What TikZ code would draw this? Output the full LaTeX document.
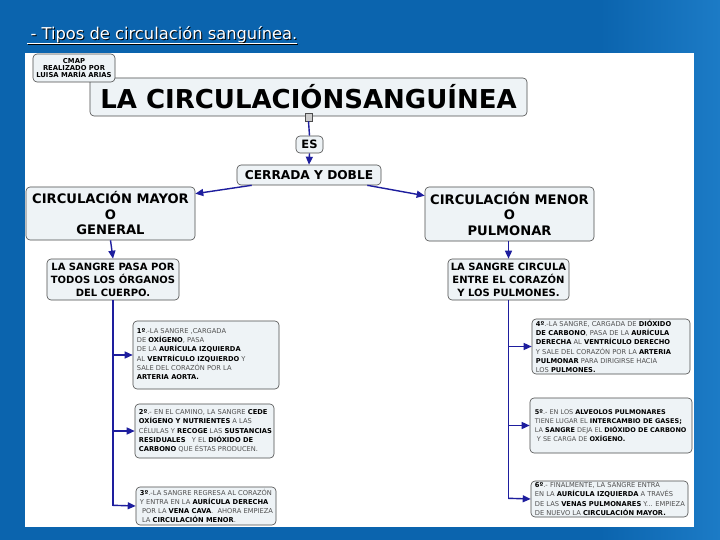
\documentclass[tikz,border=0pt]{standalone}
\usepackage{fontspec}
\setmainfont{DejaVu Sans}
\usetikzlibrary{arrows.meta,calc}
\definecolor{bgblue}{HTML}{0B64AE}
\definecolor{bgblue2}{HTML}{1C7BC6}
\definecolor{boxfill}{HTML}{EEF3F6}
\definecolor{conn}{HTML}{1E1E9E}
\definecolor{txtgray}{HTML}{505050}
\newcommand{\bb}[1]{{\color{black}\bfseries #1}}
\begin{document}
\begin{tikzpicture}[x=1pt,y=-1pt,
  box/.style={draw=black!70, line width=0.6pt, rounded corners=4pt, fill=boxfill,
              inner sep=0pt, align=center, font=\bfseries},
  sz/.style n args={2}{minimum width=#1, minimum height=#2},
  small/.style={box},
  smalltext/.style={anchor=west, inner sep=0pt, align=left, text=txtgray, font=\fontsize{6.7}{9.2}\selectfont},
  conline/.style={draw=conn, line width=1.4pt},
  arr/.style={conline, -{Triangle[length=8pt,width=7pt]}}
]
\useasboundingbox (0,0) rectangle (720,540);
% background
\fill[bgblue] (0,0) rectangle (720,540);
\shade[left color=bgblue, right color=bgblue2] (600,0) rectangle (720,540);
\fill[white] (25,53) rectangle (694,527);

% page heading
\node[anchor=base west, text=black, font=\fontsize{16.3}{18}\selectfont] (headsh) at (28,41) {- Tipos de circulación sanguínea.};
\draw[black, line width=1pt] (28,45) -- (298,45);
\node[anchor=base west, text=white, font=\fontsize{16.3}{18}\selectfont] (head) at (27,40) {- Tipos de circulación sanguínea.};
\draw[white, line width=1pt] (27,44) -- (297,44);

% main title
\node[box, sz={437pt}{38pt}, font=\bfseries\fontsize{26}{28}\selectfont] (title) at (308.5,97) {LA CIRCULACIÓNSANGUÍNEA};
\node[box, sz={82pt}{28pt}, font=\bfseries\fontsize{6.8}{7.2}\selectfont] (cmap) at (74,68) {CMAP\\REALIZADO POR\\LUISA MARÍA ARIAS};
\node[draw=black!70, fill=gray!40, line width=0.5pt, minimum width=7pt, minimum height=8pt, inner sep=0pt] (icon) at (308.5,117) {};

\node[box, sz={27pt}{17pt}, font=\bfseries\fontsize{11.5}{13}\selectfont] (es) at (309.5,144.5) {ES};
\node[box, sz={144pt}{20pt}, font=\bfseries\fontsize{12.2}{14}\selectfont] (cerr) at (309,175) {CERRADA Y DOBLE};

\node[box, sz={169pt}{53pt}, font=\bfseries\fontsize{13.1}{15.5}\selectfont] (mayor) at (110.5,213.5) {CIRCULACIÓN MAYOR\\O\\GENERAL};
\node[box, sz={169pt}{54pt}, font=\bfseries\fontsize{13.1}{15.5}\selectfont] (menor) at (509.5,214) {CIRCULACIÓN MENOR\\O\\PULMONAR};

\node[box, sz={132pt}{41pt}, font=\bfseries\fontsize{10}{13}\selectfont] (s1) at (113,279.5) {LA SANGRE PASA POR\\TODOS LOS ÓRGANOS\\DEL CUERPO.};
\node[box, sz={121pt}{41pt}, font=\bfseries\fontsize{10}{13}\selectfont] (s2) at (508.5,279.5) {LA SANGRE CIRCULA\\ENTRE EL CORAZÓN\\Y LOS PULMONES.};

% left steps
\node[small, sz={146pt}{68pt}] (b1) at (206,355) {};
\node[smalltext] (b1t) at ([xshift=4pt,yshift=1pt]b1.west) {\bb{1º}.-LA SANGRE ,CARGADA\\DE \bb{OXÍGENO}, PASA\\DE LA \bb{AURÍCULA IZQUIERDA}\\AL \bb{VENTRÍCULO IZQUIERDO} Y\\SALE DEL CORAZÓN POR LA\\\bb{ARTERIA AORTA.}};
\node[small, sz={139pt}{54pt}] (b2) at (204.5,431) {};
\node[smalltext] (b2t) at ([xshift=4pt]b2.west) {\bb{2º}.- EN EL CAMINO, LA SANGRE \bb{CEDE}\\\bb{OXÍGENO Y NUTRIENTES} A LAS\\CÉLULAS Y \bb{RECOGE} LAS \bb{SUSTANCIAS}\\\bb{RESIDUALES}\ \ \ Y EL \bb{DIÓXIDO DE}\\\bb{CARBONO} QUE ÉSTAS PRODUCEN.};
\node[small, sz={140pt}{38pt}] (b3) at (206,506) {};
\node[smalltext] (b3t) at ([xshift=4pt]b3.west) {\bb{3º}.-LA SANGRE REGRESA AL CORAZÓN\\Y ENTRA EN LA \bb{AURÍCULA DERECHA}\\\ POR LA \bb{VENA CAVA}.\ \ AHORA EMPIEZA\\\ LA \bb{CIRCULACIÓN MENOR}.};

% right steps
\node[small, sz={158pt}{55pt}] (b4) at (611,346.5) {};
\node[smalltext] (b4t) at ([xshift=4pt]b4.west) {\bb{4º}.-LA SANGRE, CARGADA DE \bb{DIÓXIDO}\\\bb{DE CARBONO}, PASA DE LA \bb{AURÍCULA}\\\bb{DERECHA} AL \bb{VENTRÍCULO DERECHO}\\Y SALE DEL CORAZÓN POR LA \bb{ARTERIA}\\\bb{PULMONAR} PARA DIRIGIRSE HACIA\\LOS \bb{PULMONES.}};
\node[small, sz={162pt}{55pt}] (b5) at (611,425.5) {};
\node[smalltext, font=\fontsize{6.5}{9.2}\selectfont] (b5t) at ([xshift=5pt]b5.west) {\bb{5º}.- EN LOS \bb{ALVEOLOS PULMONARES}\\TIENE LUGAR EL \bb{INTERCAMBIO DE GASES;}\\LA \bb{SANGRE} DEJA EL \bb{DIÓXIDO DE CARBONO}\\\ Y SE CARGA DE \bb{OXÍGENO.}};
\node[small, sz={157pt}{36pt}] (b6) at (609.5,499) {};
\node[smalltext] (b6t) at ([xshift=4pt]b6.west) {\bb{6º}.- FINALMENTE, LA SANGRE ENTRA\\EN LA \bb{AURÍCULA IZQUIERDA} A TRAVÉS\\DE LAS \bb{VENAS PULMONARES} Y... EMPIEZA\\DE NUEVO LA \bb{CIRCULACIÓN MAYOR.}};

% connectors
\draw[conline] (icon.south) -- (es.north);
\draw[arr] (es.south) -- (cerr.north);
\draw[arr] ([xshift=15pt]cerr.south west) -- ([yshift=-7pt]mayor.north east);
\draw[arr] ([xshift=-14pt]cerr.south east) -- ([yshift=-9pt]menor.north west);
\draw[arr] (mayor.south) -- (s1.north);
\draw[arr] (menor.south -| s2.north) -- (s2.north);

\draw[conline] (s1.south) -- (s1.south |- b3.west);
\draw[arr] (s1.south |- b1.west) -- (b1.west);
\draw[arr] (s1.south |- b2.west) -- (b2.west);
\draw[arr] ([yshift=0.7pt]s1.south |- b3.west) -- (b3.west);

\draw[conline] (s2.south) -- (s2.south |- b6.west);
\draw[arr] (s2.south |- b4.west) -- (b4.west);
\draw[arr] (s2.south |- b5.west) -- (b5.west);
\draw[arr] ([yshift=0.7pt]s2.south |- b6.west) -- (b6.west);
\end{tikzpicture}
\end{document}
